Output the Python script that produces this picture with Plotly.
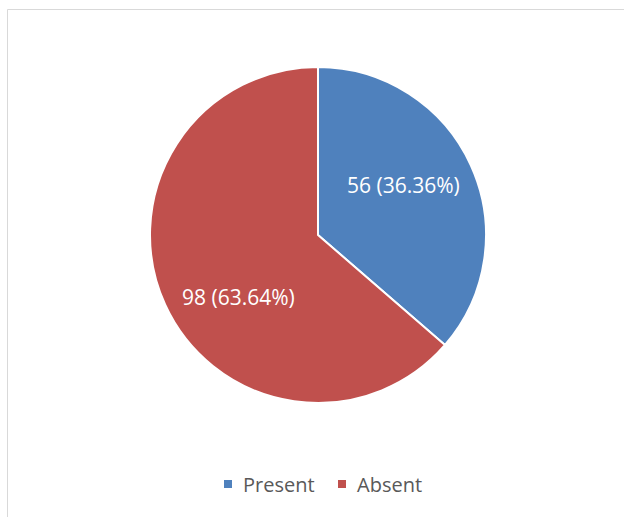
import plotly.graph_objects as go

labels = ["Present", "Absent"]
values = [56, 98]
percents = ["36.36%", "63.64%"]
colors = ["#4F81BD", "#C0504D"]

W, H = 624, 517
cx, cy, r = 318, 235, 168
FONT = "Open Sans, Liberation Sans, sans-serif"

fig = go.Figure(go.Pie(
    labels=labels,
    values=values,
    textinfo="none",
    marker=dict(colors=colors, line=dict(color="white", width=2)),
    sort=False,
    direction="clockwise",
    rotation=0,
    domain=dict(x=[(cx - r) / W, (cx + r) / W], y=[1 - (cy + r) / H, 1 - (cy - r) / H]),
    hoverinfo="skip",
    showlegend=False,
))

# data label positions (pixels)
label_pos = [(403, 185), (238, 297)]
annotations = []
for (px, py), v, p in zip(label_pos, values, percents):
    annotations.append(dict(x=px / W, y=1 - py / H, xref="paper", yref="paper",
                            text=f"{v} ({p})", showarrow=False,
                            font=dict(family=FONT, size=21, color="white"),
                            xanchor="center", yanchor="middle"))

# legend
legend_y = 484
legend_items = [(228, 241), (342, 355)]
shapes = [dict(type="rect", xref="paper", yref="paper", x0=7.5 / W, x1=1.02, y0=-0.02, y1=1 - 9.5 / H,
               line=dict(color="#D9D9D9", width=1), layer="below")]
for (mx, tx), lab, col in zip(legend_items, labels, colors):
    shapes.append(dict(type="rect", xref="paper", yref="paper",
                       x0=(mx - 4) / W, x1=(mx + 4) / W,
                       y0=1 - (legend_y + 4) / H, y1=1 - (legend_y - 4) / H,
                       fillcolor=col, line=dict(width=0)))
    annotations.append(dict(x=tx / W, y=1 - legend_y / H, xref="paper", yref="paper",
                            text=lab, showarrow=False,
                            font=dict(family=FONT, size=20, color="#595959"),
                            xanchor="left", yanchor="middle"))

fig.update_layout(
    width=W, height=H,
    margin=dict(l=0, r=0, t=0, b=0),
    paper_bgcolor="white",
    annotations=annotations,
    shapes=shapes,
    font=dict(family=FONT),
)

fig.write_html("out.html", config={"displayModeBar": False},
               post_script="document.body.style.margin='0';")
